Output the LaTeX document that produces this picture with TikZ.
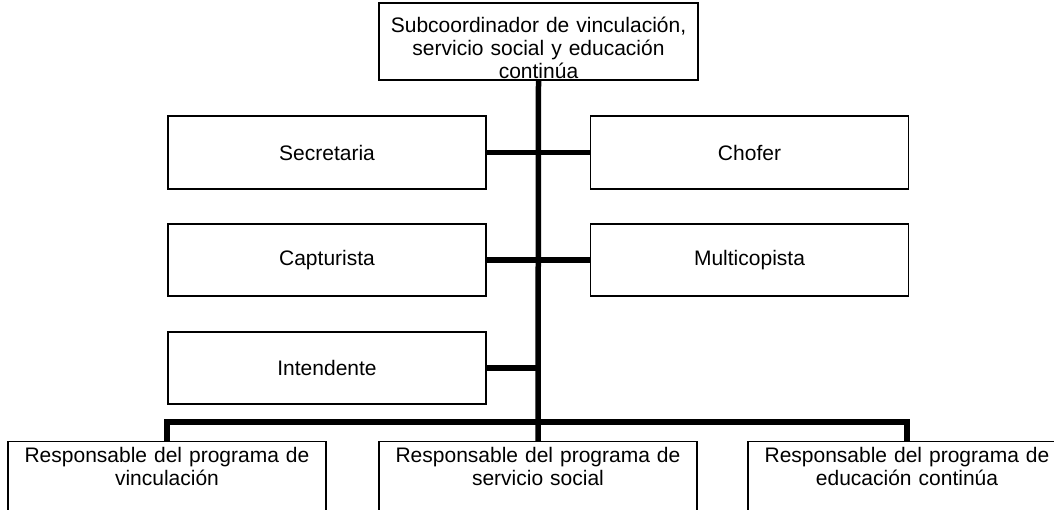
\documentclass[tikz,border=0pt]{standalone}
\usepackage{fontspec}
\setmainfont{Liberation Sans}
\begin{document}
\begin{tikzpicture}[x=1pt,y=-1pt,
  box/.style={draw=black, line width=1.2pt, inner sep=0pt, fill=white},
  lbl/.style={font=\fontsize{21}{23}\selectfont, align=center, inner sep=0pt, text width=318pt},
  conn/.style={draw=black, line width=5.5pt}]
\clip (0,0) rectangle (1054,510);
% boxes
\node[box, minimum width=319pt, minimum height=77pt] (top) at (538.5,41.5) {};
\node[lbl, anchor=base] (toptxt) at (538.5,33) {Subcoordinador de vinculación,\\servicio social y educación\\continúa};

\node[box, lbl, minimum width=318pt, minimum height=73pt] (sec) at (327,152.5) {Secretaria};
\node[box, lbl, minimum width=318pt, minimum height=73pt] (cho) at (749.5,152.5) {Chofer};
\node[box, lbl, minimum width=318pt, minimum height=72pt] (cap) at (327,260) {Capturista};
\node[box, lbl, minimum width=318pt, minimum height=72pt] (mul) at (749.5,260) {Multicopista};
\node[box, lbl, minimum width=318pt, minimum height=72pt] (int) at (327,368) {Intendente};

\node[box, minimum width=318pt, minimum height=100pt, anchor=north] (r1) at (167,441) {};
\node[box, minimum width=318pt, minimum height=100pt, anchor=north] (r2) at (538,441) {};
\node[box, minimum width=318pt, minimum height=100pt, anchor=north] (r3) at (907,441) {};
\node[lbl, anchor=base] (r1t) at (167,462) {Responsable del programa de\\vinculación};
\node[lbl, anchor=base] (r2t) at (538,462) {Responsable del programa de\\servicio social};
\node[lbl, anchor=base] (r3t) at (907,462) {Responsable del programa de\\educación continúa};

% connectors
\coordinate (bar) at (538,422);
\draw[conn] (top.south) -- (r2.north);
\draw[conn] (sec.east) -- (cho.west);
\draw[conn] (cap.east) -- (mul.west);
\draw[conn] (int.east) -- (int.east -| top.south);
\draw[conn] (r1.north) |- (bar) -| (r3.north);
\end{tikzpicture}
\end{document}
